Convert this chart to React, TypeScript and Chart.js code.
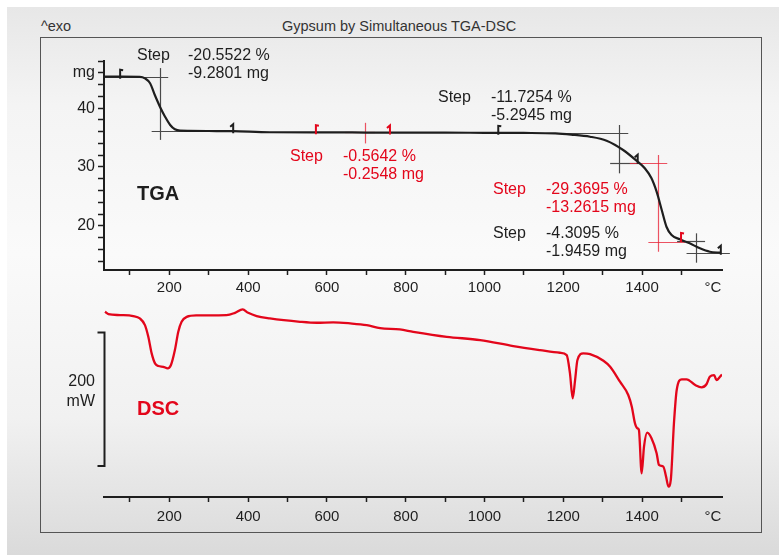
import React, { useEffect, useRef } from 'react';
import { Chart, registerables } from 'chart.js';

Chart.register(...registerables);

// ---------- data ----------
const tgaTemp = [36, 80, 125, 138, 151, 163, 176, 189, 202, 214, 227, 250, 300, 362, 455, 600, 700, 800, 900, 1000, 1100, 1180, 1220, 1268, 1310, 1352, 1386, 1407, 1424, 1437, 1450, 1462, 1475, 1496, 1521, 1547, 1572, 1600];
const tgaMass = [45.33, 45.33, 45.32, 45.06, 44.21, 42.22, 40.24, 38.54, 37.13, 36.4, 36.16, 36.13, 36.11, 36.08, 35.9, 35.88, 35.85, 35.82, 35.82, 35.8, 35.78, 35.7, 35.5, 35.14, 34.46, 32.88, 31.06, 29.77, 28.07, 25.8, 22.69, 19.85, 18.44, 17.71, 17.03, 16.18, 15.6, 15.44];

const dscTemp = [36.5, 45, 75, 108, 125, 138, 146.5, 155, 163.5, 172, 184.5, 195.7, 204, 214, 222.6, 231, 244, 269, 345, 366.6, 386, 400, 421.6, 455, 532, 574, 616, 659, 701, 735, 785, 819, 904, 989, 1073, 1141, 1191.6, 1208.7, 1217, 1224, 1230, 1236, 1251, 1268, 1302, 1319, 1344, 1365, 1374, 1382, 1388, 1392, 1399, 1405, 1413, 1424, 1437, 1443, 1454, 1461, 1467, 1473, 1481, 1488, 1501, 1513, 1535, 1551, 1564, 1572, 1583, 1589, 1598, 1603];
const dscPower = [230.8, 227.4, 225.9, 224.4, 220.9, 210.9, 193.4, 168.6, 153.6, 149.6, 148.5, 146.1, 151.1, 173.5, 200.9, 215.9, 223.3, 225.4, 225.9, 229.3, 234.4, 229.3, 224.4, 220.9, 215.9, 214.4, 215, 213.5, 210.9, 206.5, 204.5, 200.9, 193.4, 188.5, 179.5, 173.5, 169.5, 166, 138.7, 101.3, 128.6, 158.6, 168.6, 167.5, 157.5, 148.5, 126.1, 106.2, 88.7, 63.9, 56.4, 53.9, -10.9, 28.9, 49.8, 41.4, 19, 1.5, -1, -16, -31, -20.9, 63.9, 113.7, 129.7, 129.7, 121.2, 117.7, 122.7, 133.6, 136.1, 128.6, 133.6, 137];

const xTickValues = [100, 200, 300, 400, 500, 600, 700, 800, 900, 1000, 1100, 1200, 1300, 1400, 1500];
const xLabelValues = [200, 400, 600, 800, 1000, 1200, 1400];
const xUnitAt = 1580;
const tgaYTickValues = [14, 16, 18, 20, 22, 24, 26, 28, 30, 32, 34, 36, 38, 40, 42, 44, 46, 48];
const tgaYLabelValues = [20, 30, 40];
const tgaUnitAt = 46;
const dscBar = [0, 200];

// step evaluation crosshairs (temperature / mass)
const crossTemp = [176, 697, 1341, 1441, 1537];
const crossMassTop = [46.8, 37.5, 37.13, 32.03, 18.73];
const crossMassBottom = [34.6, 34.0, 28.92, 15.6, 13.74];
const crossRed = [false, true, false, true, false];
const crossLevels = [
  [[45.33, 36.5, 197], [36.11, 155, 300]],
  [[35.9, 646, 722]],
  [[35.72, 1192, 1365], [30.62, 1319, 1395]],
  [[30.62, 1369, 1464], [17.3, 1416, 1509]],
  [[17.47, 1489, 1560], [15.44, 1513, 1623]],
];
// step limit flags: temperature, mass, direction (1 right, -1 left), red
const flagTemp = [75, 362, 572, 760, 1035, 1389, 1499, 1600];
const flagMass = [45.33, 36.08, 35.9, 35.86, 35.8, 30.9, 17.6, 15.44];
const flagDir = [1, -1, 1, -1, 1, -1, 1, -1];
const flagRed = [false, false, true, true, false, false, true, false];

const stepTexts = [
  ['Step', '-20.5522 %', '-9.2801 mg'],
  ['Step', '-11.7254 %', '-5.2945 mg'],
  ['Step', '-0.5642 %', '-0.2548 mg'],
  ['Step', '-29.3695 %', '-13.2615 mg'],
  ['Step', '-4.3095 %', '-1.9459 mg'],
];
const stepTextRed = [false, false, true, true, false];

// ---------- styling / layout ----------
const FONT = '"Liberation Sans", Arial, Helvetica, sans-serif';
const INK = '#1e1e1e';
const RED = '#e3061b';
const RED_THIN = 'rgba(232, 40, 60, 0.8)';
const GREY_THIN = '#4a4a4a';

const stepTextPos = [
  { sx: 137, vx: 188, cy: 55 },
  { sx: 438, vx: 491, cy: 97 },
  { sx: 290, vx: 343, cy: 156 },
  { sx: 493, vx: 546, cy: 189 },
  { sx: 493, vx: 546, cy: 233 },
];

function xAxis(pad: number) {
  return {
    type: 'linear',
    min: 34,
    max: 1603,
    afterBuildTicks: (s: any) => {
      s.ticks = [...xTickValues.map((v) => ({ value: v })), { value: xUnitAt }];
    },
    afterFit: (s: any) => {
      s.height = 30;
    },
    grid: {
      drawOnChartArea: false,
      drawTicks: true,
      tickLength: 5,
      tickWidth: 1.5,
      tickColor: (c: any) => (c.tick && c.tick.value === xUnitAt ? 'rgba(0,0,0,0)' : INK),
    },
    border: { display: true, color: INK, width: 2 },
    ticks: {
      padding: pad,
      autoSkip: false,
      maxRotation: 0,
      color: INK,
      font: { family: FONT, size: 15 },
      callback: (v: any) => (v === xUnitAt ? '°C' : xLabelValues.includes(v) ? String(v) : ''),
    },
  };
}

const tgaPlugin = {
  id: 'tgaMarks',
  beforeDatasetsDraw(chart: any) {
    const { ctx, scales } = chart;
    const x = scales.x;
    const y = scales.y;
    ctx.save();
    ctx.lineWidth = 1.2;
    crossTemp.forEach((t, i) => {
      ctx.strokeStyle = crossRed[i] ? RED_THIN : GREY_THIN;
      const px = Math.round(x.getPixelForValue(t)) + 0.5;
      ctx.beginPath();
      ctx.moveTo(px, y.getPixelForValue(crossMassTop[i]));
      ctx.lineTo(px, y.getPixelForValue(crossMassBottom[i]));
      ctx.stroke();
      crossLevels[i].forEach(([m, t1, t2]) => {
        const py = Math.round(y.getPixelForValue(m)) + 0.5;
        ctx.beginPath();
        ctx.moveTo(x.getPixelForValue(t1), py);
        ctx.lineTo(x.getPixelForValue(t2), py);
        ctx.stroke();
      });
    });
    ctx.restore();
  },
  afterDatasetsDraw(chart: any) {
    const { ctx, scales } = chart;
    const x = scales.x;
    const y = scales.y;
    ctx.save();
    ctx.lineWidth = 2;
    ctx.lineCap = 'butt';
    flagTemp.forEach((t, i) => {
      const px = x.getPixelForValue(t);
      const py = y.getPixelForValue(flagMass[i]);
      ctx.strokeStyle = flagRed[i] ? RED : INK;
      ctx.beginPath();
      ctx.moveTo(px, py + 2);
      ctx.lineTo(px, py - 7);
      ctx.lineTo(px + flagDir[i] * 3, py - (flagDir[i] > 0 ? 6.5 : 4.5));
      ctx.stroke();
    });
    ctx.restore();
  },
};

const dscPlugin = {
  id: 'dscBar',
  afterDatasetsDraw(chart: any) {
    const { ctx, scales, chartArea } = chart;
    const y = scales.y;
    const px = chartArea.left + 0.5;
    const y0 = y.getPixelForValue(dscBar[0]);
    const y1 = y.getPixelForValue(dscBar[1]);
    ctx.save();
    ctx.strokeStyle = INK;
    ctx.lineWidth = 2;
    ctx.beginPath();
    ctx.moveTo(px - 7, y1);
    ctx.lineTo(px, y1);
    ctx.lineTo(px, y0);
    ctx.lineTo(px - 7, y0);
    ctx.stroke();
    ctx.restore();
  },
};

function Txt(props: { x: number; cy: number; size: number; color?: string; bold?: boolean; right?: boolean; children: any }) {
  const { x, cy, size, color, bold, right, children } = props;
  const style: any = {
    position: 'absolute',
    top: cy - 0.49 * size,
    fontFamily: FONT,
    fontSize: size,
    lineHeight: 1,
    fontWeight: bold ? 'bold' : 'normal',
    color: color || INK,
    whiteSpace: 'nowrap',
  };
  if (right) style.right = 782 - x;
  else style.left = x;
  return <div style={style}>{children}</div>;
}

export default function App() {
  const tgaRef = useRef<HTMLCanvasElement>(null);
  const dscRef = useRef<HTMLCanvasElement>(null);

  useEffect(() => {
    const tga = new Chart(tgaRef.current as HTMLCanvasElement, {
      type: 'line',
      data: {
        datasets: [
          {
            data: tgaTemp.map((t, i) => ({ x: t, y: tgaMass[i] })),
            borderColor: INK,
            borderWidth: 2.2,
            pointRadius: 0,
            cubicInterpolationMode: 'monotone',
          },
        ],
      },
      options: {
        responsive: false,
        animation: false,
        devicePixelRatio: 1,
        layout: { padding: { left: 64, right: 60, top: 61, bottom: 0 } },
        plugins: { legend: { display: false }, tooltip: { enabled: false } },
        scales: {
          x: xAxis(4) as any,
          y: {
            type: 'linear',
            min: 12.5,
            max: 48,
            afterBuildTicks: (s: any) => {
              s.ticks = tgaYTickValues.map((v) => ({ value: v }));
            },
            afterFit: (s: any) => {
              s.width = 40;
            },
            grid: { drawOnChartArea: false, tickLength: 6, tickWidth: 1.5, tickColor: INK },
            border: { display: true, color: INK, width: 2 },
            ticks: {
              padding: 3,
              autoSkip: false,
              color: INK,
              font: { family: FONT, size: 16 },
              callback: (v: any) => (v === tgaUnitAt ? 'mg' : tgaYLabelValues.includes(v) ? String(v) : ''),
            },
          },
        },
      },
      plugins: [tgaPlugin],
    } as any);

    const dsc = new Chart(dscRef.current as HTMLCanvasElement, {
      type: 'line',
      data: {
        datasets: [
          {
            data: dscTemp.map((t, i) => ({ x: t, y: dscPower[i] })),
            borderColor: RED,
            borderWidth: 2.3,
            pointRadius: 0,
            cubicInterpolationMode: 'monotone',
          },
        ],
      },
      options: {
        responsive: false,
        animation: false,
        devicePixelRatio: 1,
        layout: { padding: { left: 104, right: 60, top: 19, bottom: 13 } },
        plugins: { legend: { display: false }, tooltip: { enabled: false } },
        scales: {
          x: xAxis(6) as any,
          y: { type: 'linear', min: -46.5, max: 250, display: false },
        },
      },
      plugins: [dscPlugin],
    } as any);

    return () => {
      tga.destroy();
      dsc.destroy();
    };
  }, []);

  return (
    <div style={{ position: 'absolute', left: 0, top: 0, width: 782, height: 555, background: '#fff', overflow: 'hidden' }}>
      <div
        style={{
          position: 'absolute',
          left: 7,
          top: 7,
          width: 772,
          height: 548,
          background: 'linear-gradient(to bottom, #e7e7e7 0%, #f4f4f4 18%, #fafafa 45%, #f1f1f1 75%, #dadada 100%)',
        }}
      />
      <div
        style={{
          position: 'absolute',
          left: 40,
          top: 37,
          width: 722,
          height: 496,
          border: '1.5px solid #555',
          boxSizing: 'border-box',
        }}
      />
      <Txt x={41} cy={26.5} size={14.5} color="#333">^exo</Txt>
      <Txt x={282} cy={26.5} size={14.5} color="#333">Gypsum by Simultaneous TGA-DSC</Txt>

      <canvas ref={tgaRef} width={782} height={300} style={{ position: 'absolute', left: 0, top: 0 }} />
      <canvas ref={dscRef} width={782} height={260} style={{ position: 'absolute', left: 0, top: 280 }} />

      {stepTexts.map((lines, i) => {
        const p = stepTextPos[i];
        const c = stepTextRed[i] ? RED : INK;
        return (
          <React.Fragment key={i}>
            <Txt x={p.sx} cy={p.cy} size={16} color={c}>{lines[0]}</Txt>
            <Txt x={p.vx} cy={p.cy} size={16} color={c}>{lines[1]}</Txt>
            <Txt x={p.vx} cy={p.cy + 18} size={16} color={c}>{lines[2]}</Txt>
          </React.Fragment>
        );
      })}

      <Txt x={137} cy={193} size={20} bold>TGA</Txt>
      <Txt x={137} cy={408} size={20} bold color={RED}>DSC</Txt>
      <Txt x={95} cy={381} size={16} right>{String(dscBar[1])}</Txt>
      <Txt x={95} cy={401} size={16} right>mW</Txt>
    </div>
  );
}
